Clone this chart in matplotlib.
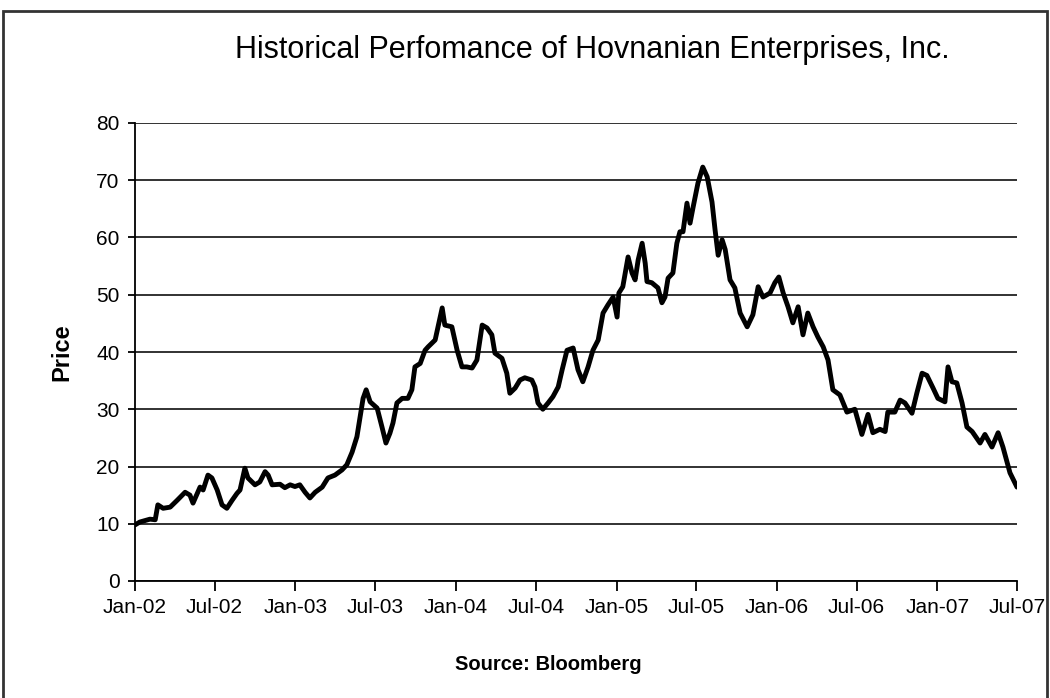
import numpy as np
import matplotlib
matplotlib.use("Agg")
import matplotlib.pyplot as plt
import matplotlib.dates as mdates
from matplotlib.patches import Rectangle

# Days after 2002-01-01 for each reading, and the closing price
day_offset = [0, 11, 34, 46, 52, 64, 80, 96, 114, 125, 132, 148, 155, 166, 175, 187,
              198, 209, 221, 232, 239, 250, 257, 273, 284, 296, 303, 312, 330, 341,
              353, 364, 375, 387, 398, 410, 426, 439, 455, 471, 482, 494, 505, 512,
              519, 526, 535, 551, 562, 571, 580, 587, 596, 608, 621, 630, 637, 649,
              660, 667, 683, 699, 705, 721, 733, 744, 755, 767, 778, 790, 801, 812,
              819, 835, 846, 853, 865, 876, 887, 903, 910, 917, 928, 940, 951, 963,
              972, 983, 997, 1008, 1019, 1031, 1042, 1054, 1065, 1076, 1088, 1097,
              1101, 1110, 1122, 1131, 1138, 1145, 1154, 1161, 1165, 1176, 1190, 1199,
              1206, 1213, 1224, 1233, 1240, 1247, 1256, 1263, 1270, 1281, 1292, 1302,
              1313, 1320, 1327, 1336, 1343, 1354, 1365, 1377, 1393, 1406, 1418, 1429,
              1445, 1456, 1465, 1475, 1486, 1497, 1509, 1520, 1531, 1543, 1554, 1566,
              1577, 1588, 1604, 1620, 1638, 1654, 1668, 1679, 1695, 1707, 1713, 1729,
              1741, 1752, 1768, 1779, 1791, 1802, 1816, 1827, 1843, 1850, 1859, 1870,
              1882, 1893, 1905, 1923, 1934, 1950, 1964, 1975, 1991, 2007]
price = [9.8, 10.3, 10.8, 10.7, 13.3, 12.7, 12.9, 14.1, 15.5, 15.0, 13.6, 16.4, 15.9,
         18.5, 18.0, 15.9, 13.3, 12.7, 14.1, 15.3, 15.9, 19.7, 18.0, 16.8, 17.3, 19.1,
         18.5, 16.8, 16.9, 16.3, 16.8, 16.5, 16.8, 15.5, 14.5, 15.5, 16.4, 18.0, 18.5,
         19.4, 20.3, 22.5, 25.2, 28.6, 31.9, 33.4, 31.3, 30.2, 26.9, 24.1, 25.8, 27.6,
         31.1, 31.9, 31.9, 33.4, 37.4, 38.0, 40.3, 40.9, 42.1, 47.7, 44.7, 44.4, 40.3,
         37.4, 37.4, 37.2, 38.6, 44.7, 44.2, 43.0, 39.8, 38.9, 36.3, 32.8, 33.7, 35.1,
         35.5, 35.1, 33.9, 31.1, 30.0, 31.1, 32.2, 33.9, 36.9, 40.3, 40.7, 36.9, 34.8,
         37.4, 40.3, 42.1, 46.8, 48.2, 49.6, 46.1, 50.3, 51.4, 56.6, 53.8, 52.6, 56.1,
         59.0, 55.5, 52.3, 52.1, 51.2, 48.6, 49.6, 52.9, 53.8, 59.0, 61.0, 61.0, 66.0,
         62.5, 65.3, 69.5, 72.3, 70.6, 66.2, 61.3, 56.9, 59.6, 57.9, 52.6, 51.2, 46.8,
         44.4, 46.5, 51.4, 49.6, 50.3, 52.1, 53.1, 50.3, 47.9, 45.1, 47.9, 43.0, 46.8,
         44.4, 42.6, 40.9, 38.6, 33.4, 32.5, 29.5, 30.0, 25.6, 29.1, 25.9, 26.5, 26.1,
         29.5, 29.5, 31.6, 31.1, 29.3, 32.8, 36.3, 35.9, 33.7, 31.9, 31.3, 37.4, 34.8,
         34.6, 31.1, 26.9, 26.1, 24.1, 25.6, 23.4, 25.9, 23.4, 18.9, 16.4]

start_date = "2002-01-01"
end_date = "2007-07-01"
y_ticks = [0, 10, 20, 30, 40, 50, 60, 70, 80]
title = "Historical Perfomance of Hovnanian Enterprises, Inc."
x_title = "Source: Bloomberg"
y_title = "Price"

dates = np.datetime64(start_date) + np.array(day_offset, dtype="timedelta64[D]")

plt.rcParams["font.family"] = ["Liberation Sans", "DejaVu Sans"]

W, H = 1050, 698
fig = plt.figure(figsize=(W / 100, H / 100), dpi=100)
fig.patch.set_facecolor("white")

ax = fig.add_axes([135 / W, 1 - 581 / H, 882 / W, 458 / H])
ax.plot(dates, price, color="black", lw=3.5, solid_joinstyle="round",
        solid_capstyle="round", zorder=3)

ax.set_ylim(0, 80)
ax.set_yticks(y_ticks)
ax.set_xlim(np.datetime64(start_date), np.datetime64(end_date))
ax.xaxis.set_major_locator(mdates.MonthLocator(bymonth=[1, 7]))
ax.xaxis.set_major_formatter(mdates.DateFormatter("%b-%y"))

ax.grid(axis="y", color="#222222", lw=1.3)
ax.set_axisbelow(True)
for s in ["top", "right"]:
    ax.spines[s].set_visible(False)
for s in ["left", "bottom"]:
    ax.spines[s].set_color("black")
    ax.spines[s].set_linewidth(1.3)

ax.tick_params(axis="y", direction="out", length=5, width=1.3, labelsize=15, pad=6)
ax.tick_params(axis="x", direction="out", length=7, width=1.3, labelsize=15, pad=5)

fig.text(592 / W, 1 - 50 / H, title, ha="center", va="center", fontsize=22)
fig.text(548 / W, 1 - 664 / H, x_title, ha="center", va="center", fontsize=14.5,
         fontweight="bold")
fig.text(62 / W, 1 - 352 / H, y_title, ha="center", va="center", fontsize=17,
         fontweight="bold", rotation=90)

fig.patches.append(Rectangle((3 / W, -10 / H), 1044 / W, 697 / H,
                             transform=fig.transFigure, fill=False,
                             edgecolor="#333333", lw=2))

fig.savefig("out.png", dpi=100)
